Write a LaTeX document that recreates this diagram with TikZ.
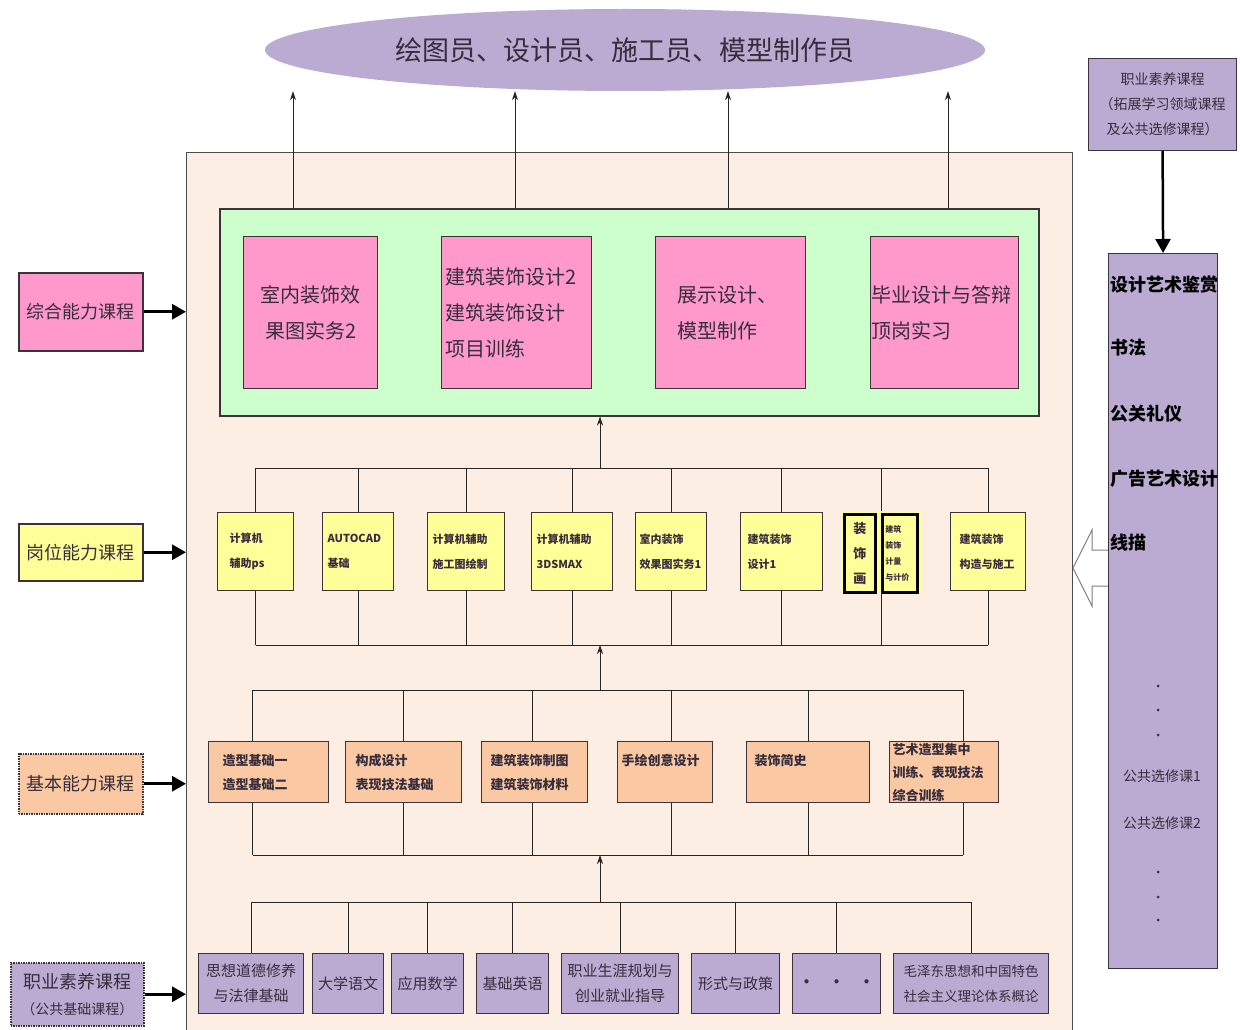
\documentclass[tikz,border=0pt]{standalone}
\usepackage{fontspec}
\newfontfamily\cjk{Noto Sans CJK SC}
\usetikzlibrary{arrows.meta,shapes.geometric}
\definecolor{framepeach}{RGB}{253,238,228}
\definecolor{boxgreen}{RGB}{204,255,204}
\definecolor{boxpink}{RGB}{255,153,204}
\definecolor{boxyellow}{RGB}{255,255,153}
\definecolor{boxorange}{RGB}{250,201,163}
\definecolor{boxpurple}{RGB}{187,170,209}
\definecolor{edgedark}{RGB}{60,50,60}
\definecolor{textdark}{RGB}{55,45,60}
\tikzset{
  wh/.style n args={3}{minimum width=#1, minimum height=#2, inner xsep=#3, text width=#1-2*#3},
  box/.style={draw=edgedark, line width=1.2pt, anchor=north west, inner ysep=2pt, text=textdark},
  box-pink/.style={box, fill=boxpink, font=\cjk\fontsize{20}{36}\selectfont},
  box-yellow/.style={box, fill=boxyellow, align=left, font=\cjk\bfseries\fontsize{11}{25}\selectfont},
  box-orange/.style={box, fill=boxorange, align=left, font=\cjk\bfseries\fontsize{13}{24}\selectfont},
  box-purple/.style={box, fill=boxpurple, align=center, font=\cjk\fontsize{15}{25}\selectfont},
  tag/.style={box, line width=1.5pt, align=center, font=\cjk\fontsize{18}{26}\selectfont},
  item/.style={anchor=west, inner sep=0pt, text=black, font=\cjk\bfseries\fontsize{18}{20}\selectfont},
  dotmark/.style={circle, fill=black!80, minimum size=3pt, inner sep=0pt},
  bus/.style={line width=0.9pt, draw=black!85},
  up/.style={bus, -{Stealth[length=9pt,width=6pt]}},
  feed/.style={line width=3pt, -{Triangle[length=14pt,width=15pt]}}
}

\begin{document}
\begin{tikzpicture}[x=1pt, y=-1pt]
  \fill[white] (0,0) rectangle (1240,1030);
  \useasboundingbox (0,0) rectangle (1240,1030);
  % Frame and job ellipse
  \node[draw=black!70, line width=1pt, fill=framepeach, anchor=north west,
        minimum width=886, minimum height=900, inner sep=0pt] (frame) at (186,152) {};
  \node[ellipse, fill=boxpurple, minimum width=720, minimum height=82, text=textdark,
        font=\cjk\fontsize{27}{30}\selectfont] (job) at (625,50) {绘图员、设计员、施工员、模型制作员};

  % Comprehensive courses
  \node[box, fill=boxgreen, line width=1.5pt, minimum width=819, minimum height=207] (green) at (219,208) {};
  \node[box-pink, wh={134}{152}{4}, align=center] (p1) at (243,236) {室内装饰效\\果图实务2};
  \node[box-pink, wh={150}{152}{4}, align=left] (p2) at (441,236) {建筑装饰设计2\\建筑装饰设计\\项目训练};
  \node[box-pink, wh={150}{152}{22}, align=left] (p3) at (655,236) {展示设计、\\模型制作};
  \node[box-pink, wh={148}{152}{1}, align=left] (p4) at (870,236) {毕业设计与答辩\\顶岗实习};
  \foreach \x [count=\i] in {293,515,728,948}{
    \coordinate (jobin\i) at (\x,208);
    \draw[up] (jobin\i) -- (jobin\i |- job.south);
  }

  % Post ability courses
  \node[box-yellow, wh={76}{78}{12}] (g1) at (217,512) {计算机\\辅助ps};
  \node[box-yellow, wh={71}{78}{5}] (g2) at (322,512) {AUTOCAD\\基础};
  \node[box-yellow, wh={77}{78}{5}] (g3) at (427,512) {计算机辅助\\施工图绘制};
  \node[box-yellow, wh={81}{78}{5}] (g4) at (531,512) {计算机辅助\\3DSMAX};
  \node[box-yellow, wh={71}{78}{4}] (g5) at (635,512) {室内装饰\\效果图实务1};
  \node[box-yellow, wh={82}{78}{7}] (g6) at (740,512) {建筑装饰\\设计1};
  \node[box-yellow, draw=none, minimum width=80, minimum height=80] (g7) at (841,511) {};
  \node[box-yellow, draw=black, line width=2.5pt, wh={31}{78}{2}, align=center,
        font=\cjk\bfseries\fontsize{13}{25}\selectfont] (g7a) at (843,513) {装\\饰\\画};
  \node[box-yellow, draw=black, line width=2.5pt, wh={35}{78}{3},
        font=\cjk\bfseries\fontsize{8}{16}\selectfont] (g7b) at (881,513) {建筑\\装饰\\计量\\与计价};
  \node[box-yellow, wh={75}{78}{9}] (g8) at (950,512) {建筑装饰\\构造与施工};
  \coordinate (gtop) at (600,468);
  \coordinate (gbot) at (600,645);
  \draw[bus] (g1.north |- gtop) -- (g8.north |- gtop);
  \draw[bus] (g1.south |- gbot) -- (g8.south |- gbot);
  \foreach \n in {g1,g2,g3,g4,g5,g6,g7,g8}{
    \draw[bus] (\n.north) -- (\n.north |- gtop);
    \draw[bus] (\n.south) -- (\n.south |- gbot);
  }
  \draw[up] (gtop) -- (gtop |- green.south);

  % Basic ability courses
  \node[box-orange, wh={120}{61}{14}] (o1) at (208,741) {造型基础一\\造型基础二};
  \node[box-orange, wh={116}{61}{10}] (o2) at (345,741) {构成设计\\表现技法基础};
  \node[box-orange, wh={106}{61}{9}] (o3) at (481,741) {建筑装饰制图\\建筑装饰材料};
  \node[box-orange, wh={95}{61}{4}] (o4) at (617,741) {手绘创意设计\\\mbox{}};
  \node[box-orange, wh={123}{61}{8}] (o5) at (746,741) {装饰简史\\\mbox{}};
  \node[box-orange, wh={109}{61}{3}, inner ysep=0pt,
        font=\cjk\bfseries\fontsize{13}{23}\selectfont] (o6) at (889,741) {艺术造型集中\\训练、表现技法\\综合训练};
  \coordinate (otop) at (600,690);
  \coordinate (obot) at (600,855);
  \draw[bus] ([xshift=-16]o1.north |- otop) -- ([xshift=19]o6.north |- otop);
  \draw[bus] ([xshift=-16]o1.south |- obot) -- ([xshift=19]o6.south |- obot);
  \foreach \n/\dx in {o1/-16,o2/0,o3/-2,o4/6,o5/0,o6/19}{
    \draw[bus] ([xshift=\dx]\n.north) -- ([xshift=\dx]\n.north |- otop);
    \draw[bus] ([xshift=\dx]\n.south) -- ([xshift=\dx]\n.south |- obot);
  }
  \draw[up] (otop) -- (otop |- gbot);

  % Public base courses
  \node[box-purple, wh={105}{60}{2}] (b1) at (198,953) {思想道德修养\\与法律基础};
  \node[box-purple, wh={71}{60}{2}] (b2) at (312,953) {大学语文};
  \node[box-purple, wh={72}{60}{2}] (b3) at (391,953) {应用数学};
  \node[box-purple, wh={72}{60}{2}] (b4) at (476,953) {基础英语};
  \node[box-purple, wh={117}{60}{2}] (b5) at (561,953) {职业生涯规划与\\创业就业指导};
  \node[box-purple, wh={88}{60}{2}] (b6) at (691,953) {形式与政策};
  \node[box-purple, wh={88}{60}{2}, font=\cjk\bfseries\fontsize{15}{25}\selectfont] (b7) at (792,953) {·\quad·\quad·};
  \node[box-purple, wh={155}{60}{2}, font=\cjk\fontsize{13.5}{25}\selectfont] (b8) at (893,953) {毛泽东思想和中国特色\\社会主义理论体系概论};
  \coordinate (btop) at (600,902);
  \draw[bus] (b1.north |- btop) -- (b8.north |- btop);
  \foreach \n in {b1,b2,b3,b4,b5,b6,b7,b8}
    \draw[bus] (\n.north) -- (\n.north |- btop);
  \draw[up] (btop) -- (btop |- obot);

  % Category tags
  \node[tag, fill=boxpink, minimum width=124, minimum height=78] (t1) at (18,272) {综合能力课程};
  \node[tag, fill=boxyellow, minimum width=124, minimum height=57] (t2) at (18,523) {岗位能力课程};
  \node[tag, fill=boxorange, densely dotted, minimum width=124, minimum height=60] (t3) at (18,753) {基本能力课程};
  \node[tag, fill=boxpurple, densely dotted, minimum width=133, minimum height=63] (t4) at (10,962)
    {职业素养课程\\{\fontsize{14}{20}\selectfont （公共基础课程）}};
  \foreach \n in {t1,t2,t3,t4}
    \draw[feed] (\n.east) -- (\n.east -| frame.west);

  % Elective column
  \node[box, fill=boxpurple, minimum width=148, minimum height=92, align=center,
        font=\cjk\fontsize{14}{25}\selectfont] (r1) at (1088,58) {职业素养课程\\（拓展学习领域课程\\及公共选修课程）};
  \draw[draw=black!50, fill=white, line width=1pt] (1112,550) -- (1092,550) -- (1092,530)
    -- (1073,568) -- (1092,606) -- (1092,586) -- (1112,586);
  \node[box, fill=boxpurple, minimum width=109, minimum height=715] (r2) at (1108,253) {};
  \draw[feed, line width=2.5pt] (r1.south) -- (r2.north);
  \foreach \t/\y [count=\i] in {设计艺术鉴赏/285,书法/348,公关礼仪/414,广告艺术设计/479,线描/543}
    \node[item] (e\i) at (1110,\y) {\t};
  \foreach \t/\y [count=\i] in {公共选修课1/776,公共选修课2/823}
    \node[item, anchor=center, text=textdark, font=\cjk\fontsize{14}{16}\selectfont] (pub\i) at (1162,\y) {\t};
  \foreach \y [count=\i] in {686,710,735,872,897,920}
    \node[dotmark] (dot\i) at (1158,\y) {};
\end{tikzpicture}
\end{document}
